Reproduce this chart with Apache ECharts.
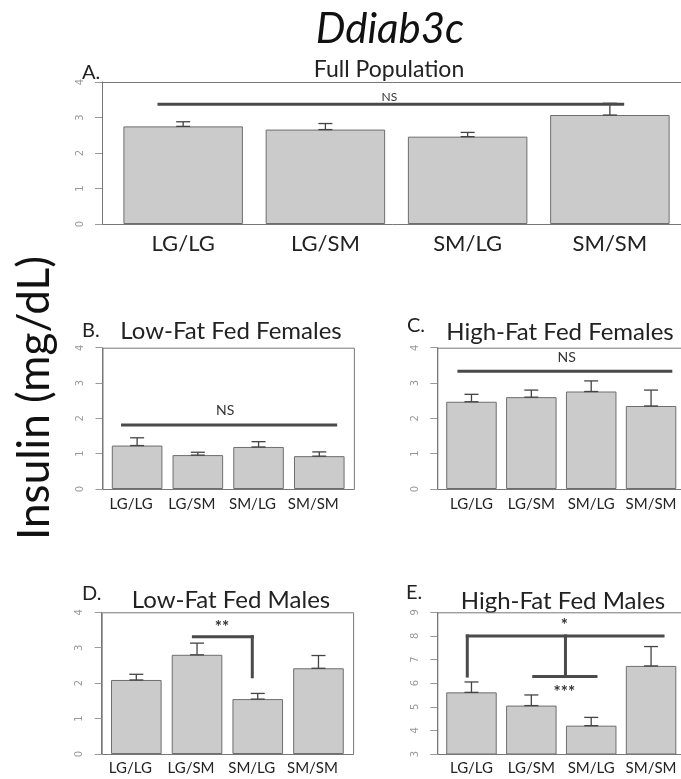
<!DOCTYPE html>
<html>
<head>
<meta charset="utf-8">
<script src="https://cdn.jsdelivr.net/npm/echarts@6/dist/echarts.min.js"></script>
<style>
  html, body { margin: 0; padding: 0; background: #fff; }
  #chart { width: 681px; height: 779px; }
</style>
</head>
<body>
<div id="chart"></div>
<script>
// genotype groups
const categories = ['LG/LG', 'LG/SM', 'SM/LG', 'SM/SM'];

// insulin means and standard errors, per panel
const fullMean = [2.75, 2.66, 2.46, 3.07];
const fullSe = [0.13, 0.17, 0.12, 0.33];
const lfFemaleMean = [1.23, 0.96, 1.19, 0.93];
const lfFemaleSe = [0.22, 0.08, 0.15, 0.12];
const hfFemaleMean = [2.47, 2.60, 2.76, 2.35];
const hfFemaleSe = [0.21, 0.20, 0.30, 0.45];
const lfMaleMean = [2.09, 2.80, 1.55, 2.42];
const lfMaleSe = [0.16, 0.33, 0.16, 0.36];
const hfMaleMean = [5.61, 5.05, 4.20, 6.73];
const hfMaleSe = [0.44, 0.45, 0.35, 0.82];

// y tick ranges
const lowTicks = [0, 4];
const highTicks = [3, 9];

// significance marks: lines [x1, y1, x2, y2] in group-index units, texts [x, y, label]
const fullSigLines = [[-0.17, 3.37, 3.09, 3.37]];
const fullSigText = [[1.45, 3.58, 'NS']];
const lfFemaleSigLines = [[-0.24, 1.81, 3.27, 1.81]];
const lfFemaleSigText = [[1.45, 2.21, 'NS']];
const hfFemaleSigLines = [[-0.21, 3.33, 3.33, 3.33]];
const hfFemaleSigText = [[1.59, 3.72, 'NS']];
const lfMaleSigLines = [[0.94, 3.31, 1.91, 3.31], [1.91, 3.31, 1.91, 2.18]];
const lfMaleSigText = [[1.41, 3.58, '**']];
const hfMaleSigLines = [
  [-0.07, 8.0, 3.20, 8.0], [-0.07, 8.0, -0.07, 6.3],
  [1.57, 8.0, 1.57, 6.28], [1.04, 6.28, 2.08, 6.28]
];
const hfMaleSigText = [[1.55, 8.42, '*'], [1.55, 5.6, '***']];

const FONT = 'Lato, "Open Sans", sans-serif';

const panels = [
  { letter: 'A.', title: 'Full Population', mean: fullMean, se: fullSe, ticks: lowTicks,
    lines: fullSigLines, texts: fullSigText, textFont: '12px ',
    top: 82, bottom: 224, boxLeft: 102, unit: 119.5, labelSize: 22, labelMargin: 9, shift: 0,
    titleX: 389, titleY: 70, titleSize: 23, letterX: 82, letterY: 73 },
  { letter: 'B.', title: 'Low-Fat Fed Females', mean: lfFemaleMean, se: lfFemaleSe, ticks: lowTicks,
    lines: lfFemaleSigLines, texts: lfFemaleSigText, textFont: '14px ',
    top: 347.7, bottom: 489, boxLeft: 102.5, unit: 50.6, labelSize: 15, labelMargin: 8, shift: 6,
    titleX: 231, titleY: 331, titleSize: 24, letterX: 82, letterY: 331 },
  { letter: 'C.', title: 'High-Fat Fed Females', mean: hfFemaleMean, se: hfFemaleSe, ticks: lowTicks,
    lines: hfFemaleSigLines, texts: hfFemaleSigText, textFont: '14px ',
    top: 347.7, bottom: 489, boxLeft: 437.3, unit: 50.5, labelSize: 15, labelMargin: 8, shift: 0,
    titleX: 560, titleY: 332, titleSize: 24, letterX: 407, letterY: 326 },
  { letter: 'D.', title: 'Low-Fat Fed Males', mean: lfMaleMean, se: lfMaleSe, ticks: lowTicks,
    lines: lfMaleSigLines, texts: lfMaleSigText, textFont: 'bold 17px ',
    top: 612.3, bottom: 754, boxLeft: 101.7, unit: 50.6, labelSize: 15, labelMargin: 7, shift: 6,
    titleX: 231, titleY: 600, titleSize: 24, letterX: 82, letterY: 594 },
  { letter: 'E.', title: 'High-Fat Fed Males', mean: hfMaleMean, se: hfMaleSe, ticks: highTicks,
    lines: hfMaleSigLines, texts: hfMaleSigText, textFont: 'bold 17px ',
    top: 612.3, bottom: 754, boxLeft: 437.3, unit: 50.5, labelSize: 15, labelMargin: 7, shift: 0,
    titleX: 563, titleY: 601, titleSize: 24, letterX: 406, letterY: 593 }
];

const chart = echarts.init(document.getElementById('chart'));

const grid = [], xAxis = [], yAxis = [], series = [];
const graphic = [
  { type: 'text', x: 390, y: 29,
    style: { text: 'Ddiab3c', font: 'italic 42px ' + FONT, fill: '#111', textAlign: 'center', textVerticalAlign: 'middle' } },
  { type: 'text', x: 35, y: 398, rotation: Math.PI / 2,
    style: { text: 'Insulin (mg/dL)', font: '44px ' + FONT, fill: '#111', textAlign: 'center', textVerticalAlign: 'middle' } }
];

panels.forEach((p, k) => {
  const inset = 0.084 * p.unit;
  grid.push({ left: p.boxLeft + inset, top: p.top, width: 4.8 * p.unit, height: p.bottom - p.top });

  xAxis.push({
    type: 'category', gridIndex: k, data: categories,
    axisLine: { show: false }, axisTick: { show: false },
    axisLabel: { interval: 0, fontFamily: FONT, fontSize: p.labelSize, color: '#222',
      margin: p.labelMargin, padding: [0, p.shift * 2, 0, 0] }
  });
  xAxis.push({ type: 'value', gridIndex: k, min: -0.5, max: 3.5, show: false });

  yAxis.push({
    type: 'value', gridIndex: k, min: p.ticks[0], max: p.ticks[1], interval: 1,
    offset: inset,
    axisLine: { show: true, onZero: false, lineStyle: { color: '#777', width: 1 } },
    axisTick: { show: true, length: 7, lineStyle: { color: '#999' } },
    axisLabel: { rotate: 90, fontSize: 10, color: '#999', margin: 17, fontFamily: 'DejaVu Sans' },
    splitLine: { show: false }
  });

  series.push({
    type: 'bar', xAxisIndex: 2 * k, yAxisIndex: k, data: p.mean,
    barWidth: p.unit, clip: true, silent: true,
    itemStyle: { color: '#cbcbcb', borderColor: '#6e6e6e', borderWidth: 1 }
  });

  // error bars
  series.push({
    type: 'custom', xAxisIndex: 2 * k + 1, yAxisIndex: k, silent: true, z: 5,
    data: p.mean.map((m, i) => [i, m, p.se[i]]),
    renderItem: (params, api) => {
      const x = api.value(0), m = api.value(1), s = api.value(2);
      const lo = api.coord([x, m]);
      const hi = api.coord([x, m + s]);
      const st = { stroke: '#444', lineWidth: 1.3 };
      return { type: 'group', children: [
        { type: 'line', shape: { x1: lo[0], y1: lo[1], x2: hi[0], y2: hi[1] }, style: st },
        { type: 'line', shape: { x1: hi[0] - 7, y1: hi[1], x2: hi[0] + 7, y2: hi[1] }, style: st },
        { type: 'line', shape: { x1: lo[0] - 7, y1: lo[1], x2: lo[0] + 7, y2: lo[1] }, style: st }
      ] };
    }
  });

  // significance lines
  series.push({
    type: 'custom', xAxisIndex: 2 * k + 1, yAxisIndex: k, silent: true, z: 6, clip: false,
    data: p.lines,
    renderItem: (params, api) => {
      const a = api.coord([api.value(0), api.value(1)]);
      const b = api.coord([api.value(2), api.value(3)]);
      return { type: 'line', shape: { x1: a[0], y1: a[1], x2: b[0], y2: b[1] },
        style: { stroke: '#4a4a4a', lineWidth: 3, lineCap: 'square' } };
    }
  });
  series.push({
    type: 'custom', xAxisIndex: 2 * k + 1, yAxisIndex: k, silent: true, z: 6, clip: false,
    data: p.texts,
    renderItem: (params, api) => {
      const a = api.coord([api.value(0), api.value(1)]);
      return { type: 'text', x: a[0], y: a[1],
        style: { text: p.texts[params.dataIndex][2], font: p.textFont + FONT,
          fill: '#333', textAlign: 'center', textVerticalAlign: 'middle' } };
    }
  });

  // plot frame
  graphic.push({ type: 'rect', z: 10, silent: true,
    shape: { x: p.boxLeft + 0.5, y: p.top + 0.5, width: 4.968 * p.unit, height: p.bottom - p.top },
    style: { fill: 'none', stroke: '#777', lineWidth: 1 } });
  graphic.push({ type: 'text', x: p.titleX, y: p.titleY,
    style: { text: p.title, font: p.titleSize + 'px ' + FONT, fill: '#222', textAlign: 'center', textVerticalAlign: 'middle' } });
  graphic.push({ type: 'text', x: p.letterX, y: p.letterY,
    style: { text: p.letter, font: '20px ' + FONT, fill: '#222', textAlign: 'left', textVerticalAlign: 'middle' } });
});

chart.setOption({
  backgroundColor: '#fff',
  animation: false,
  grid: grid,
  xAxis: xAxis,
  yAxis: yAxis,
  series: series,
  graphic: graphic
});
</script>
</body>
</html>
